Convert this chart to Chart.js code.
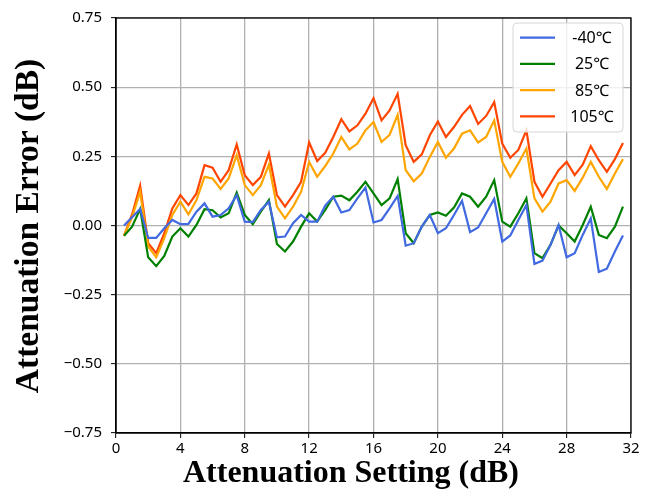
<!DOCTYPE html>
<html>
<head>
<meta charset="utf-8">
<script src="https://cdn.jsdelivr.net/npm/chart.js@4"></script>
<style>
  body { margin: 0; background: #fff; }
</style>
</head>
<body>
<canvas id="grafico" width="656" height="495"></canvas>
<script>
const settings = [0.5, 1, 1.5, 2, 2.5, 3, 3.5, 4, 4.5, 5, 5.5, 6, 6.5, 7, 7.5, 8,
    8.5, 9, 9.5, 10, 10.5, 11, 11.5, 12, 12.5, 13, 13.5, 14, 14.5, 15, 15.5, 16,
    16.5, 17, 17.5, 18, 18.5, 19, 19.5, 20, 20.5, 21, 21.5, 22, 22.5, 23, 23.5, 24,
    24.5, 25, 25.5, 26, 26.5, 27, 27.5, 28, 28.5, 29, 29.5, 30, 30.5, 31, 31.5];

const errMinus40 = [0.0, 0.03, 0.06, -0.045, -0.045, -0.01, 0.02, 0.005, 0.006, 0.05, 0.08, 0.032, 0.038,
    0.062, 0.11, 0.014, 0.012, 0.056, 0.086, -0.043, -0.04, 0.008, 0.038, 0.014, 0.014, 0.072,
    0.104, 0.047, 0.056, 0.098, 0.137, 0.011, 0.02, 0.062, 0.107, -0.073, -0.064, -0.004, 0.038,
    -0.028, -0.01, 0.038, 0.089, -0.024, -0.007, 0.044, 0.096, -0.058, -0.036, 0.02, 0.074, -0.139,
    -0.127, -0.07, 0.002, -0.115, -0.1, -0.034, 0.026, -0.168, -0.156, -0.094, -0.036];

const err25 = [-0.037, -0.004, 0.06, -0.115, -0.147, -0.11, -0.04, -0.01, -0.04, 0.002, 0.059, 0.055, 0.029,
    0.044, 0.119, 0.038, 0.005, 0.05, 0.092, -0.067, -0.094, -0.058, -0.004, 0.044, 0.014, 0.056,
    0.104, 0.108, 0.091, 0.122, 0.158, 0.116, 0.074, 0.098, 0.168, -0.028, -0.064, -0.004, 0.038,
    0.047, 0.035, 0.065, 0.116, 0.104, 0.068, 0.104, 0.164, 0.014, -0.004, 0.044, 0.098, -0.1,
    -0.118, -0.07, 0.0, -0.028, -0.058, 0.002, 0.068, -0.034, -0.046, -0.004, 0.068];

const err85 = [-0.037, 0.03, 0.122, -0.076, -0.115, -0.046, 0.038, 0.086, 0.04, 0.092, 0.176, 0.17, 0.132,
    0.17, 0.254, 0.146, 0.11, 0.146, 0.22, 0.068, 0.026, 0.068, 0.122, 0.23, 0.176, 0.215,
    0.26, 0.32, 0.275, 0.296, 0.344, 0.374, 0.302, 0.328, 0.4, 0.2, 0.16, 0.188, 0.248,
    0.302, 0.245, 0.278, 0.332, 0.344, 0.3, 0.32, 0.38, 0.23, 0.176, 0.224, 0.278, 0.098,
    0.05, 0.086, 0.152, 0.164, 0.125, 0.173, 0.23, 0.176, 0.132, 0.188, 0.24];

const err105 = [-0.037, 0.04, 0.144, -0.064, -0.1, -0.028, 0.062, 0.11, 0.074, 0.116, 0.218, 0.209, 0.158,
    0.2, 0.293, 0.182, 0.146, 0.176, 0.26, 0.11, 0.068, 0.11, 0.158, 0.3, 0.233, 0.263,
    0.32, 0.384, 0.34, 0.362, 0.404, 0.46, 0.38, 0.416, 0.476, 0.29, 0.23, 0.257, 0.326,
    0.376, 0.32, 0.356, 0.4, 0.432, 0.367, 0.396, 0.446, 0.296, 0.245, 0.273, 0.344, 0.158,
    0.104, 0.152, 0.2, 0.23, 0.182, 0.22, 0.287, 0.236, 0.194, 0.24, 0.298];

const seriesLabels = ['-40℃', '25℃', '85℃', '105℃'];
const seriesColors = ['#4169e1', '#008000', '#ffa500', '#ff4500'];
const seriesValues = [errMinus40, err25, err85, err105];

const xTitle = 'Attenuation Setting (dB)';
const yTitle = 'Attenuation Error (dB)';

const tickFont = { family: 'Noto Sans', size: 15 };

const datasets = seriesValues.map((vals, i) => ({
    label: seriesLabels[i],
    data: vals.map((v, j) => ({ x: settings[j], y: v })),
    borderColor: seriesColors[i],
    backgroundColor: seriesColors[i],
    borderWidth: 2.2,
    pointRadius: 0,
    tension: 0,
    fill: false
}));

// marco negro alrededor del area de trazado + titulos de ejes
const frame = {
    id: 'frame',
    afterDraw(chart) {
        const { ctx, chartArea: a } = chart;
        ctx.save();
        ctx.strokeStyle = '#000';
        ctx.lineWidth = 1.3;
        ctx.strokeRect(a.left, a.top, a.right - a.left, a.bottom - a.top);

        ctx.fillStyle = '#000';
        ctx.textAlign = 'center';
        ctx.textBaseline = 'middle';
        ctx.font = 'bold 32px "Liberation Serif", serif';
        ctx.fillText(xTitle, 351, 474);
        ctx.translate(29, 226);
        ctx.rotate(-Math.PI / 2);
        ctx.font = 'bold 33.5px "Liberation Serif", serif';
        ctx.fillText(yTitle, 0, 0);
        ctx.restore();
    }
};

// leyenda dentro del grafico, arriba a la derecha
const innerLegend = {
    id: 'innerLegend',
    afterDraw(chart) {
        const { ctx } = chart;
        const x0 = 513, y0 = 23, w = 110, h = 109;
        ctx.save();
        ctx.beginPath();
        ctx.roundRect(x0, y0, w, h, 4);
        ctx.fillStyle = 'rgba(255,255,255,0.8)';
        ctx.fill();
        ctx.strokeStyle = '#d6d6d6';
        ctx.lineWidth = 1;
        ctx.stroke();
        ctx.font = '16px "Noto Sans", "DejaVu Sans", sans-serif';
        ctx.textAlign = 'center';
        ctx.textBaseline = 'middle';
        chart.data.datasets.forEach((ds, i) => {
            const y = 37.7 + i * 26.2;
            ctx.strokeStyle = ds.borderColor;
            ctx.lineWidth = 2.2;
            ctx.beginPath();
            ctx.moveTo(520, y);
            ctx.lineTo(555, y);
            ctx.stroke();
            ctx.fillStyle = '#000';
            ctx.fillText(ds.label, 592, y + 1);
        });
        ctx.restore();
    }
};

new Chart(document.getElementById('grafico').getContext('2d'), {
    type: 'line',
    data: { datasets: datasets },
    options: {
        responsive: false,
        animation: false,
        layout: { padding: { top: 16, right: 25, left: 0, bottom: 0 } },
        plugins: {
            legend: { display: false },
            tooltip: { enabled: false }
        },
        scales: {
            x: {
                type: 'linear',
                min: 0,
                max: 32,
                ticks: { stepSize: 4, color: '#000', font: tickFont, padding: 2, maxRotation: 0 },
                grid: { color: '#b0b0b0', lineWidth: 1.3, tickLength: 5, tickColor: '#000', tickWidth: 1 },
                border: { color: '#000', width: 1.3 },
                afterFit: s => { s.height = 62; }
            },
            y: {
                min: -0.75,
                max: 0.75,
                ticks: {
                    stepSize: 0.25,
                    color: '#000',
                    font: tickFont,
                    padding: 9,
                    callback: v => (v < 0 ? '\u2212' : '') + Math.abs(v).toFixed(2)
                },
                grid: { color: '#b0b0b0', lineWidth: 1.3, tickLength: 5, tickColor: '#000', tickWidth: 1 },
                border: { color: '#000', width: 1.3 },
                afterFit: s => { s.width = 116; }
            }
        }
    },
    plugins: [frame, innerLegend]
});
</script>
</body>
</html>
